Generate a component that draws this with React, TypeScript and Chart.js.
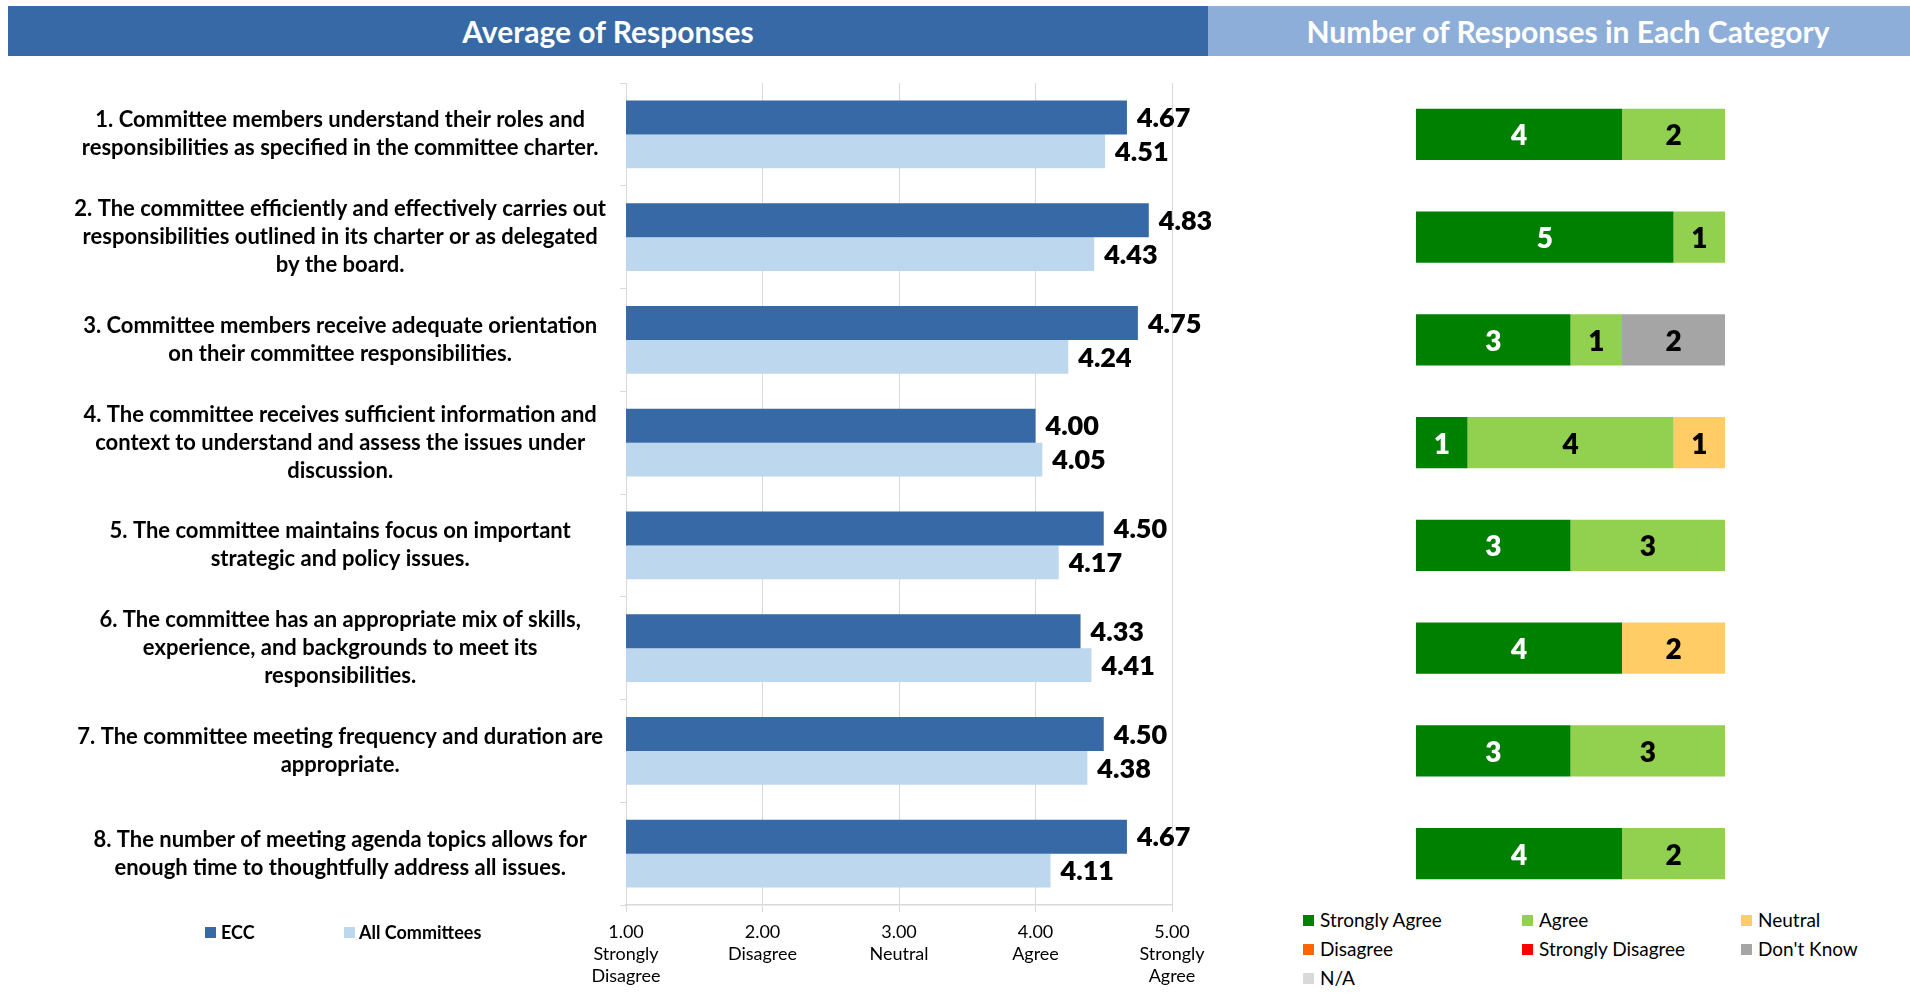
import React, { useEffect, useRef } from "react";
import { Chart, registerables } from "chart.js";

Chart.register(...registerables);

// ---------- data ----------
const categories: string[][] = [
  ["1. Committee members understand their roles and", "responsibilities as specified in the committee charter."],
  ["2. The committee efficiently and effectively carries out", "responsibilities outlined in its charter or as delegated", "by the board."],
  ["3. Committee members receive adequate orientation", "on their committee responsibilities."],
  ["4. The committee receives sufficient information and", "context to understand and assess the issues under", "discussion."],
  ["5. The committee maintains focus on important", "strategic and policy issues."],
  ["6. The committee has an appropriate mix of skills,", "experience, and backgrounds to meet its", "responsibilities."],
  ["7. The committee meeting frequency and duration are", "appropriate."],
  ["8. The number of meeting agenda topics allows for", "enough time to thoughtfully address all issues."],
];

const eccValues = [4.67, 4.83, 4.75, 4.0, 4.5, 4.33, 4.5, 4.67];
const allCommitteesValues = [4.51, 4.43, 4.24, 4.05, 4.17, 4.41, 4.38, 4.11];

const xTickValues = [1, 2, 3, 4, 5];
const xTickNames = [["Strongly", "Disagree"], ["Disagree"], ["Neutral"], ["Agree"], ["Strongly", "Agree"]];

const responseCategories = ["Strongly Agree", "Agree", "Neutral", "Disagree", "Strongly Disagree", "Don't Know", "N/A"];
const responseColors = ["#008000", "#92D050", "#FFCC66", "#FF6600", "#FF0000", "#A5A5A5", "#D9D9D9"];

const stronglyAgree = [4, 5, 3, 1, 3, 4, 3, 4];
const agree = [2, 1, 1, 4, 3, 0, 3, 2];
const neutral = [0, 0, 0, 1, 0, 2, 0, 0];
const disagree = [0, 0, 0, 0, 0, 0, 0, 0];
const stronglyDisagree = [0, 0, 0, 0, 0, 0, 0, 0];
const dontKnow = [0, 0, 2, 0, 0, 0, 0, 0];
const notApplicable = [0, 0, 0, 0, 0, 0, 0, 0];
const responseTotal = 6;

const FONT = "Lato";
const ECC_COLOR = "#3669A5";
const ALL_COLOR = "#BDD7EE";
const GRID = "#D9D9D9";

function AverageChart() {
  const ref = useRef<HTMLCanvasElement>(null);
  useEffect(() => {
    const valueLabels = {
      id: "valueLabels",
      afterDatasetsDraw(chart: any) {
        const ctx = chart.ctx;
        ctx.save();
        ctx.font = `800 27px ${FONT}`;
        ctx.fillStyle = "#000";
        ctx.textBaseline = "middle";
        ctx.textAlign = "left";
        chart.data.datasets.forEach((ds: any, di: number) => {
          chart.getDatasetMeta(di).data.forEach((bar: any, i: number) => {
            ctx.fillText(Number(ds.data[i]).toFixed(2), bar.x + 10, bar.y + 1);
          });
        });
        ctx.restore();
      },
    };
    const chart = new Chart(ref.current!, {
      type: "bar",
      data: {
        labels: categories,
        datasets: [
          { label: "ECC", data: eccValues, backgroundColor: ECC_COLOR, categoryPercentage: 0.66, barPercentage: 1.0 },
          { label: "All Committees", data: allCommitteesValues, backgroundColor: ALL_COLOR, categoryPercentage: 0.66, barPercentage: 1.0 },
        ],
      },
      options: {
        indexAxis: "y",
        responsive: false,
        animation: false,
        layout: { padding: { top: 13, right: 68, left: 0, bottom: 0 } },
        plugins: { legend: { display: false }, tooltip: { enabled: false } },
        scales: {
          x: {
            min: 1,
            max: 5,
            ticks: {
              stepSize: 1,
              color: "#000",
              font: { family: FONT, size: 18, lineHeight: "22px" },
              padding: 9,
              maxRotation: 0,
              callback: (v: any) => {
                const i = xTickValues.indexOf(Number(v));
                return [Number(v).toFixed(2), ...(xTickNames[i] || [])];
              },
            },
            grid: { color: GRID, lineWidth: 1, drawTicks: true, tickLength: 7, tickColor: GRID },
            border: { display: true, color: GRID, width: 1.5 },
            afterFit: (s: any) => {
              s.height = 100;
              s.paddingLeft = 0;
              s.paddingRight = 0;
            },
          },
          y: {
            ticks: {
              color: "#000",
              font: { family: FONT, size: 22, weight: "bold", lineHeight: "28px" },
              crossAlign: "center",
              padding: 14,
            },
            grid: { offset: true, drawOnChartArea: false, drawTicks: true, tickLength: 6, tickColor: GRID, color: GRID },
            border: { display: true, color: GRID, width: 1 },
            afterFit: (s: any) => {
              s.width = 626;
              s.paddingTop = 0;
              s.paddingBottom = 0;
            },
          },
        },
      } as any,
      plugins: [valueLabels],
    });
    return () => chart.destroy();
  }, []);
  return (
    <canvas
      ref={ref}
      width={1240}
      height={935}
      style={{ position: "absolute", left: 0, top: 70, width: 1240, height: 935 }}
    />
  );
}

function ResponsesChart() {
  const ref = useRef<HTMLCanvasElement>(null);
  useEffect(() => {
    const countLabels = {
      id: "countLabels",
      afterDatasetsDraw(chart: any) {
        const ctx = chart.ctx;
        ctx.save();
        ctx.font = `800 28px ${FONT}`;
        ctx.textBaseline = "middle";
        ctx.textAlign = "center";
        chart.data.datasets.forEach((ds: any, di: number) => {
          ctx.fillStyle = di === 0 ? "#FFFFFF" : "#000000";
          chart.getDatasetMeta(di).data.forEach((bar: any, i: number) => {
            const v = Number(ds.data[i]);
            if (v > 0) {
              const cx = (bar.x + bar.base) / 2;
              ctx.fillText(String(v), cx, bar.y + 2);
            }
          });
        });
        ctx.restore();
      },
    };
    const series = [stronglyAgree, agree, neutral, disagree, stronglyDisagree, dontKnow, notApplicable];
    const chart = new Chart(ref.current!, {
      type: "bar",
      data: {
        labels: categories.map((c) => c[0]),
        datasets: series.map((d, i) => ({
          label: responseCategories[i],
          data: d,
          backgroundColor: responseColors[i],
          categoryPercentage: 0.5,
          barPercentage: 1.0,
        })),
      },
      options: {
        indexAxis: "y",
        responsive: false,
        animation: false,
        layout: { padding: 0 },
        plugins: { legend: { display: false }, tooltip: { enabled: false } },
        scales: {
          x: { stacked: true, min: 0, max: responseTotal, display: false },
          y: { stacked: true, display: false },
        },
      } as any,
      plugins: [countLabels],
    });
    return () => chart.destroy();
  }, []);
  return (
    <canvas
      ref={ref}
      width={309}
      height={822}
      style={{ position: "absolute", left: 1416, top: 83, width: 309, height: 822 }}
    />
  );
}

export default function App() {
  const header: React.CSSProperties = {
    position: "absolute",
    top: 6,
    height: 50,
    display: "flex",
    alignItems: "center",
    justifyContent: "center",
    color: "#fff",
    fontFamily: FONT,
    fontWeight: 700,
    fontSize: 30,
  };
  const sq = (c: string): React.CSSProperties => ({
    display: "inline-block",
    width: 11,
    height: 11,
    background: c,
    marginRight: 6,
  });
  const legendCols = [1303, 1522, 1741];
  const legendRows = [920, 949, 978];
  return (
    <div style={{ position: "absolute", left: 0, top: 0, width: 1910, height: 1005, background: "#fff", overflow: "hidden" }}>
      <div style={{ ...header, left: 8, width: 1200, background: ECC_COLOR }}>Average of Responses</div>
      <div style={{ ...header, left: 1208, width: 702, background: "#8EAEDA", paddingLeft: 18, boxSizing: "border-box" }}>
        Number of Responses in Each Category
      </div>
      <AverageChart />
      <ResponsesChart />
      {/* left legend */}
      <div style={{ position: "absolute", left: 205, top: 932, transform: "translateY(-50%)", display: "flex", alignItems: "center", fontFamily: FONT, fontWeight: 700, fontSize: 18, color: "#000", lineHeight: "20px" }}>
        <span style={{ ...sq(ECC_COLOR), marginRight: 5 }} />
        <span>ECC</span>
      </div>
      <div style={{ position: "absolute", left: 344, top: 932, transform: "translateY(-50%)", display: "flex", alignItems: "center", fontFamily: FONT, fontWeight: 700, fontSize: 18, color: "#000", lineHeight: "20px" }}>
        <span style={{ ...sq(ALL_COLOR), marginRight: 4 }} />
        <span>All Committees</span>
      </div>
      {/* right legend */}
      {responseCategories.map((name, i) => (
        <div
          key={name}
          style={{
            position: "absolute",
            left: legendCols[i % 3],
            top: legendRows[Math.floor(i / 3)],
            transform: "translateY(-50%)",
            display: "flex",
            alignItems: "center",
            fontFamily: FONT,
            fontSize: 19,
            color: "#000",
            lineHeight: "22px",
            whiteSpace: "nowrap",
          }}
        >
          <span style={sq(responseColors[i])} />
          <span>{name}</span>
        </div>
      ))}
    </div>
  );
}
